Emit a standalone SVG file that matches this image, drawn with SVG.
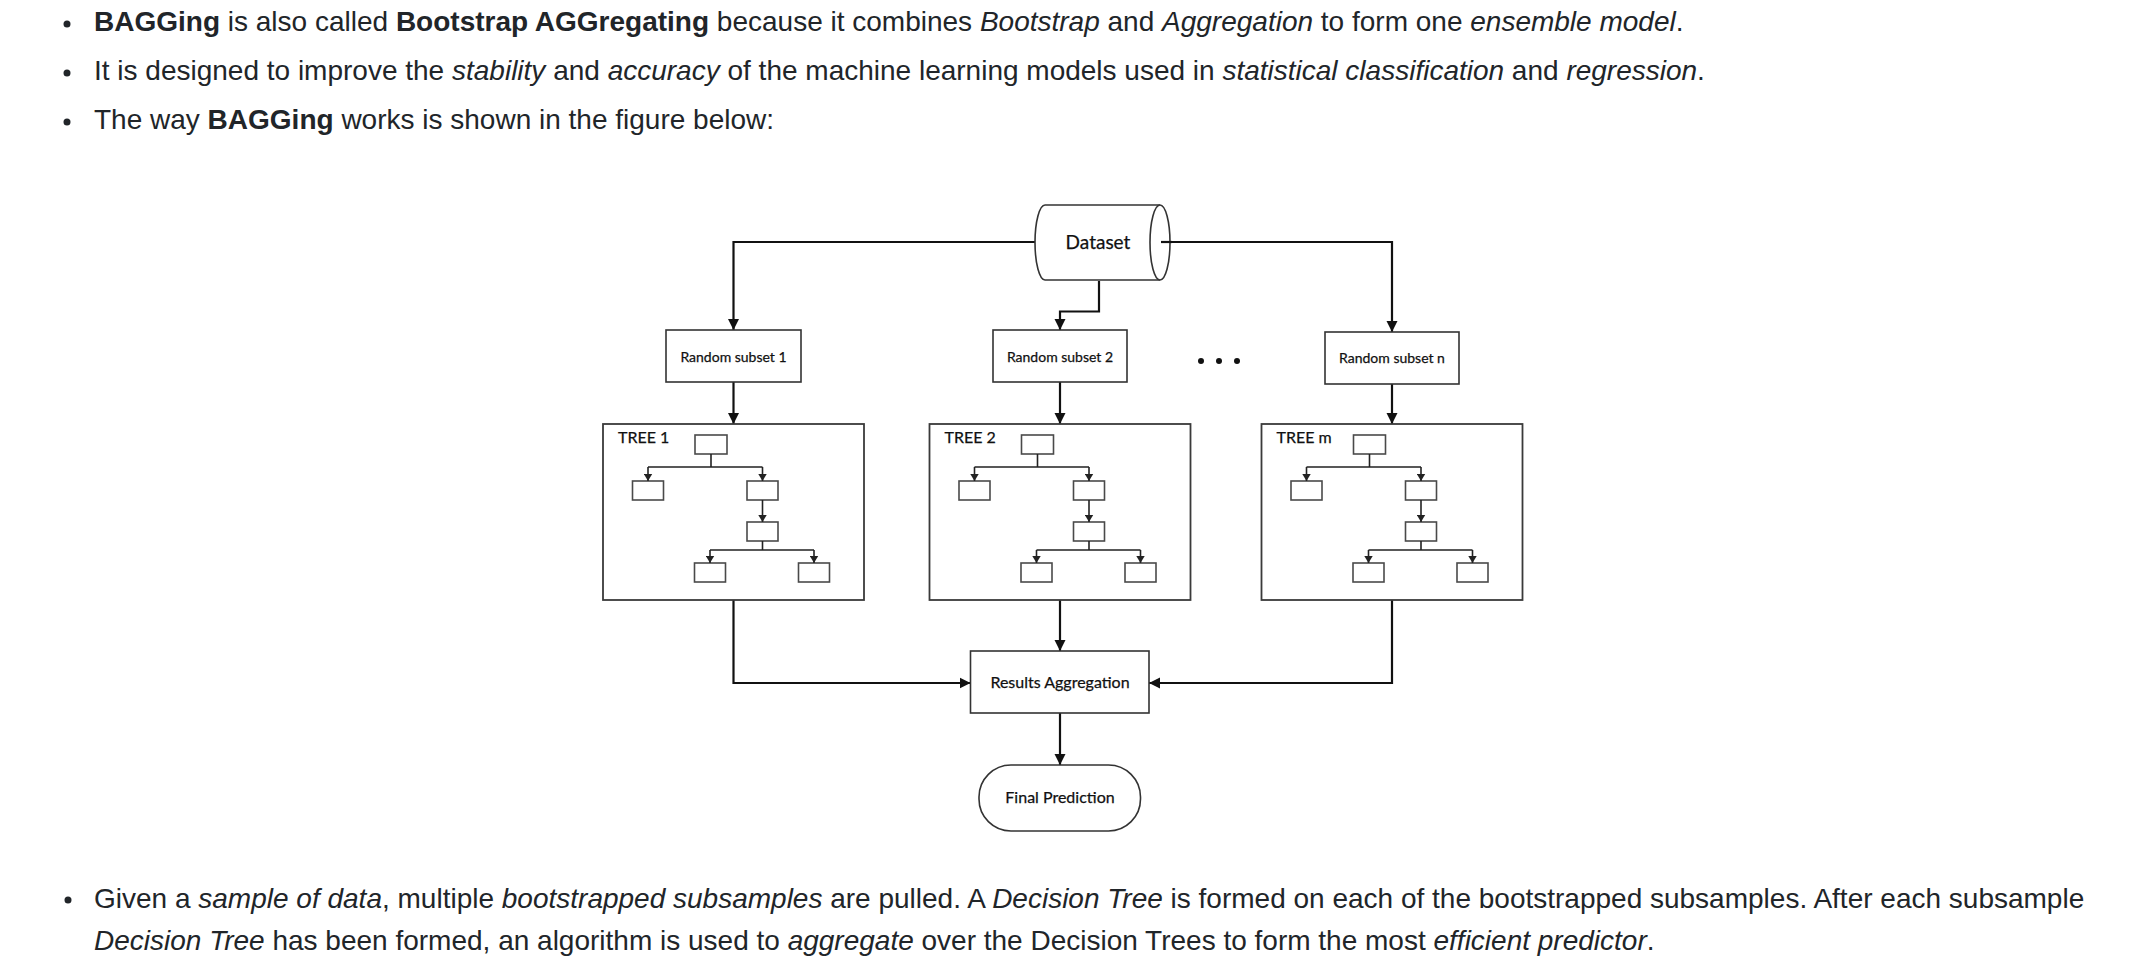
<svg xmlns="http://www.w3.org/2000/svg" xmlns:xlink="http://www.w3.org/1999/xlink" width="2146" height="970" viewBox="0 0 2146 970">
<style>
.body{font-family:"Liberation Sans",Arial,Helvetica,sans-serif;font-size:28px;fill:#212529}
.b{font-weight:bold}
.i{font-style:italic}
.lbl{font-family:Lato,"Open Sans","Liberation Sans",sans-serif;fill:#111;text-anchor:middle;stroke:#111;stroke-width:0.25}
.box{fill:#fff;stroke:#333;stroke-width:1.6}
.tbox{fill:#fff;stroke:#3a3a3a;stroke-width:1.8}
.node{fill:#fff;stroke:#4a4a4a;stroke-width:1.6}
.conn{fill:none;stroke:#111;stroke-width:2.2}
.tconn{fill:none;stroke:#222;stroke-width:1.6}
.dot{fill:#212529}
</style>
<defs>
<marker id="arr" markerUnits="userSpaceOnUse" markerWidth="12" markerHeight="12" refX="11" refY="5.5" orient="auto" viewBox="0 0 12 11">
<path d="M0,0 L11,5.5 L0,11 Z" fill="#111"/>
</marker>
<marker id="sarr" markerUnits="userSpaceOnUse" markerWidth="8" markerHeight="9" refX="7" refY="4.2" orient="auto" viewBox="0 0 8 8.4">
<path d="M0,0 L7,4.2 L0,8.4 Z" fill="#222"/>
</marker>
<g id="treeInner">
<rect class="node" x="92" y="11" width="32" height="19"/>
<rect class="node" x="29.5" y="57" width="31" height="19"/>
<rect class="node" x="144" y="57" width="31" height="19"/>
<rect class="node" x="144" y="98" width="31" height="19"/>
<rect class="node" x="91.5" y="139" width="31" height="19"/>
<rect class="node" x="195.5" y="139" width="31" height="19"/>
<path class="tconn" d="M108,30 V43 M45,43 H159.5 M159.5,117 V126 M107,126 H211"/>
<path class="tconn" d="M45,43 V57" marker-end="url(#sarr)"/>
<path class="tconn" d="M159.5,43 V57" marker-end="url(#sarr)"/>
<path class="tconn" d="M159.5,76 V98" marker-end="url(#sarr)"/>
<path class="tconn" d="M107,126 V139" marker-end="url(#sarr)"/>
<path class="tconn" d="M211,126 V139" marker-end="url(#sarr)"/>
</g>
</defs>
<rect width="2146" height="970" fill="#fff"/>

<g id="text-top">
<circle class="dot" cx="67" cy="24" r="3.5"/>
<circle class="dot" cx="67" cy="73" r="3.5"/>
<circle class="dot" cx="67" cy="122" r="3.5"/>
<text class="body" x="94" y="31"><tspan class="b">BAGGing</tspan> is also called <tspan class="b">Bootstrap AGGregating</tspan> because it combines <tspan class="i">Bootstrap</tspan> and <tspan class="i">Aggregation</tspan> to form one <tspan class="i">ensemble model</tspan>.</text>
<text class="body" x="94" y="80">It is designed to improve the <tspan class="i">stability</tspan> and <tspan class="i">accuracy</tspan> of the machine learning models used in <tspan class="i">statistical classification</tspan> and <tspan class="i">regression</tspan>.</text>
<text class="body" x="94" y="129">The way <tspan class="b">BAGGing</tspan> works is shown in the figure below:</text>
</g>

<g id="connectors">
<path class="conn" d="M1035,242 H733.5 V330" marker-end="url(#arr)"/>
<path class="conn" d="M1161,242 H1392 V332" marker-end="url(#arr)"/>
<path class="conn" d="M1099,281 V311.5 H1060 V330" marker-end="url(#arr)"/>
<path class="conn" d="M733.5,382 V424" marker-end="url(#arr)"/>
<path class="conn" d="M1060,382 V424" marker-end="url(#arr)"/>
<path class="conn" d="M1392,384 V424" marker-end="url(#arr)"/>
<path class="conn" d="M733.5,600 V683 H970.5" marker-end="url(#arr)"/>
<path class="conn" d="M1060,600 V651" marker-end="url(#arr)"/>
<path class="conn" d="M1392,600 V683 H1149" marker-end="url(#arr)"/>
<path class="conn" d="M1060,713 V765" marker-end="url(#arr)"/>
</g>

<g id="dataset">
<path class="box" d="M1045,205 H1160 A10,37.5 0 0 1 1160,280 H1045 A10,37.5 0 0 1 1045,205 Z"/>
<path class="box" d="M1160,205 A10,37.5 0 0 0 1160,280" fill="none"/>
<path class="conn" d="M1161,242 H1172"/>
<text class="lbl" x="1098" y="249" font-size="19">Dataset</text>
</g>

<g id="subset1">
<rect class="box" x="666" y="330" width="135" height="52"/>
<text class="lbl" x="733.5" y="361.5" font-size="14">Random subset 1</text>
</g>
<g id="subset2">
<rect class="box" x="993" y="330" width="134" height="52"/>
<text class="lbl" x="1060" y="361.5" font-size="14">Random subset 2</text>
</g>
<g id="dots">
<circle cx="1201" cy="361" r="3" fill="#111"/>
<circle cx="1219" cy="361" r="3" fill="#111"/>
<circle cx="1237" cy="361" r="3" fill="#111"/>
</g>
<g id="subsetn">
<rect class="box" x="1325" y="332" width="134" height="52"/>
<text class="lbl" x="1392" y="363" font-size="14">Random subset n</text>
</g>

<g id="tree1" transform="translate(603,424)">
<rect class="tbox" x="0" y="0" width="261" height="176"/>
<text class="lbl" x="15" y="19" font-size="16" style="text-anchor:start">TREE 1</text>
<use xlink:href="#treeInner" href="#treeInner"/>
</g>
<g id="tree2" transform="translate(929.5,424)">
<rect class="tbox" x="0" y="0" width="261" height="176"/>
<text class="lbl" x="15" y="19" font-size="16" style="text-anchor:start">TREE 2</text>
<use xlink:href="#treeInner" href="#treeInner"/>
</g>
<g id="treem" transform="translate(1261.5,424)">
<rect class="tbox" x="0" y="0" width="261" height="176"/>
<text class="lbl" x="15" y="19" font-size="16" style="text-anchor:start">TREE m</text>
<use xlink:href="#treeInner" href="#treeInner"/>
</g>

<g id="results">
<rect class="box" x="970.5" y="651" width="178.5" height="62"/>
<text class="lbl" x="1060" y="688" font-size="16">Results Aggregation</text>
</g>
<g id="final">
<rect class="box" x="979" y="765" width="161.5" height="66" rx="32" ry="32"/>
<text class="lbl" x="1060" y="803" font-size="16">Final Prediction</text>
</g>

<g id="text-bottom">
<circle class="dot" cx="68" cy="900" r="3.5"/>
<text class="body" x="94" y="908">Given a <tspan class="i">sample of data</tspan>, multiple <tspan class="i">bootstrapped subsamples</tspan> are pulled. A <tspan class="i">Decision Tree</tspan> is formed on each of the bootstrapped subsamples. After each subsample</text>
<text class="body" x="94" y="950"><tspan class="i">Decision Tree</tspan> has been formed, an algorithm is used to <tspan class="i">aggregate</tspan> over the Decision Trees to form the most <tspan class="i">efficient predictor</tspan>.</text>
</g>
</svg>
